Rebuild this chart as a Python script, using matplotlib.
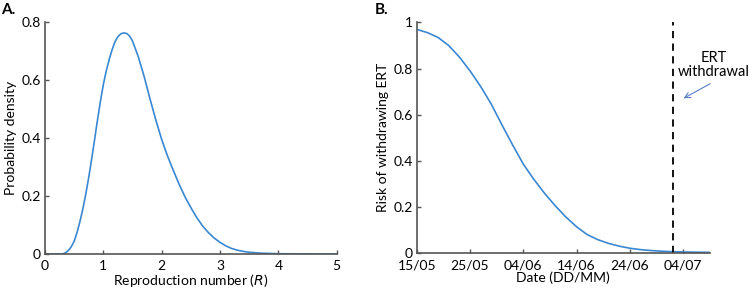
import numpy as np
import matplotlib
matplotlib.use("Agg")
import matplotlib.pyplot as plt
import matplotlib.dates as mdates
from datetime import datetime, timedelta

plt.rcParams['font.family'] = ['Lato', 'DejaVu Sans']
plt.rcParams['font.size'] = 10

# panel A: distribution of the reproduction number
r_vals = [0, 0.3, 0.35, 0.4, 0.45, 0.5, 0.55, 0.6, 0.65, 0.7, 0.75, 0.8, 0.85, 0.9,
          0.95, 1.0, 1.05, 1.1, 1.15, 1.2, 1.25, 1.3, 1.35, 1.4, 1.45, 1.5, 1.6, 1.7,
          1.8, 1.9, 2.0, 2.1, 2.2, 2.3, 2.4, 2.5, 2.6, 2.7, 2.8, 2.9, 3.0, 3.1, 3.2,
          3.3, 3.4, 3.5, 3.7, 4.0, 4.5, 5.0]
density = [0, 0, 0.004, 0.012, 0.025, 0.044, 0.075, 0.113, 0.157, 0.208, 0.265, 0.328,
           0.395, 0.463, 0.527, 0.585, 0.632, 0.671, 0.705, 0.733, 0.750, 0.760, 0.763,
           0.761, 0.752, 0.735, 0.680, 0.612, 0.535, 0.462, 0.395, 0.338, 0.288, 0.240,
           0.197, 0.160, 0.126, 0.097, 0.074, 0.055, 0.040, 0.028, 0.019, 0.013, 0.009,
           0.006, 0.003, 0.001, 0.0002, 0]

# panel B: risk of withdrawing ERT over time
start = datetime(2020, 5, 15)
days = [0, 2, 4, 6, 8, 10, 12, 14, 16, 18, 20, 22, 24, 26, 28, 30, 32, 34, 36, 38,
        40, 42, 44, 46, 48, 50, 52, 55]
risk = [0.970, 0.956, 0.935, 0.900, 0.850, 0.790, 0.722, 0.645, 0.555, 0.468, 0.385,
        0.318, 0.258, 0.204, 0.155, 0.113, 0.079, 0.057, 0.041, 0.029, 0.020, 0.014,
        0.010, 0.007, 0.005, 0.004, 0.003, 0.002]
dates = [start + timedelta(days=d) for d in days]
withdrawal = datetime(2020, 7, 2)
end = datetime(2020, 7, 9)
tick_dates = [start + timedelta(days=10 * i) for i in range(6)]

line_col = '#3a87d2'
axis_col = '#555555'

fig = plt.figure(figsize=(7.5, 2.88), dpi=100)
ax1 = fig.add_axes([0.06, 0.118, 0.389, 0.805])
ax2 = fig.add_axes([0.5556, 0.122, 0.391, 0.8])

for ax in (ax1, ax2):
    ax.spines['top'].set_visible(False)
    ax.spines['right'].set_visible(False)
    for s in ('left', 'bottom'):
        ax.spines[s].set_color(axis_col)
        ax.spines[s].set_linewidth(1.2)
    ax.tick_params(direction='in', length=3, width=1, color=axis_col,
                   labelsize=10)
    ax.tick_params(axis='x', pad=4.5)
    ax.tick_params(axis='y', pad=3)

ax1.plot(r_vals, density, color=line_col, lw=1.2)
ax1.set_xlim(0, 5)
ax1.set_ylim(0, 0.8)
ax1.set_xticks([0, 1, 2, 3, 4, 5])
ax1.set_yticks([0, 0.2, 0.4, 0.6, 0.8])
ax1.set_yticklabels(['0', '0.2', '0.4', '0.6', '0.8'])
ax1.set_xlabel('Reproduction number ($\\mathit{R}$)', fontsize=10, labelpad=0)
ax1.set_ylabel('Probability density', fontsize=10, labelpad=3)

ax2.plot(dates, risk, color=line_col, lw=1.2)
ax2.axvline(withdrawal, color='black', lw=1.3, ls=(0, (4, 3)))
ax2.set_xlim(start, end)
ax2.set_ylim(0, 1)
ax2.set_xticks(tick_dates)
ax2.xaxis.set_major_formatter(mdates.DateFormatter('%d/%m'))
ax2.set_yticks([0, 0.2, 0.4, 0.6, 0.8, 1])
ax2.set_yticklabels(['0', '0.2', '0.4', '0.6', '0.8', '1'])
ax2.set_xlabel('Date (DD/MM)', fontsize=10, labelpad=0.5)
ax2.set_ylabel('Risk of withdrawing ERT', fontsize=10, labelpad=3)

ax2.annotate('', xy=(start + timedelta(days=49.6), 0.665),
             xytext=(start + timedelta(days=55.5), 0.74),
             arrowprops=dict(arrowstyle='->', color='#5b7fc4', lw=0.8),
             annotation_clip=False)
ax2.text(start + timedelta(days=55.7), 0.815, 'ERT\nwithdrawal', ha='center',
         va='center', fontsize=10.5, linespacing=1.0, clip_on=False)

fig.text(0.001, 0.965, 'A.', fontsize=11, fontweight='bold', va='center')
fig.text(0.5, 0.965, 'B.', fontsize=11, fontweight='bold', va='center')

fig.savefig('out.png', dpi=100)
